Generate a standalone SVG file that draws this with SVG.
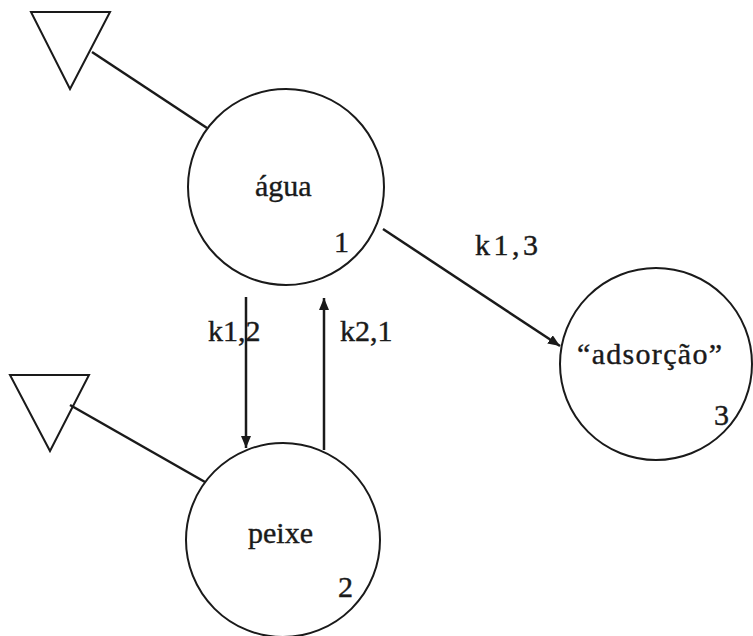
<svg xmlns="http://www.w3.org/2000/svg" width="753" height="636" viewBox="0 0 753 636">
<style>
.node{fill:none;stroke:#1a1a1a;stroke-width:2}
.tri{fill:none;stroke:#1a1a1a;stroke-width:2;stroke-linejoin:miter}
.edge{fill:none;stroke:#1a1a1a;stroke-width:2.5}
text{font-family:"Liberation Serif","Times New Roman",serif;font-size:30px;fill:#1a1a1a;stroke:#1a1a1a;stroke-width:0.4}
</style>
<defs>
<marker id="ah" viewBox="0 0 12 10" refX="12" refY="5" markerWidth="12" markerHeight="10" markerUnits="userSpaceOnUse" orient="auto">
<path d="M0,0 L12,5 L0,10 Z" fill="#1a1a1a"/>
</marker>
</defs>
<rect width="753" height="636" fill="#ffffff"/>
<g id="connectors">
<line class="edge" x1="92" y1="52" x2="207" y2="128"/>
<line class="edge" x1="70" y1="405" x2="205" y2="482"/>
<line class="edge" x1="246" y1="297" x2="246" y2="448" marker-end="url(#ah)"/>
<line class="edge" x1="324" y1="450" x2="324" y2="298" marker-end="url(#ah)"/>
<line class="edge" x1="383" y1="229" x2="560" y2="346" marker-end="url(#ah)"/>
<text x="208" y="341">k1,2</text>
<text x="340" y="341">k2,1</text>
<text x="475" y="255" textLength="63" lengthAdjust="spacing">k1,3</text>
</g>
<g id="source1">
<polygon class="tri" points="31,12 110,12 70,89"/>
</g>
<g id="source2">
<polygon class="tri" points="10,375 89,375 50,451"/>
</g>
<g id="agua">
<circle class="node" cx="286" cy="187" r="98"/>
<text x="255" y="196">água</text>
<text x="334" y="252">1</text>
</g>
<g id="peixe">
<circle class="node" cx="283" cy="540" r="97"/>
<text x="248" y="543">peixe</text>
<text x="338" y="597">2</text>
</g>
<g id="adsorcao">
<circle class="node" cx="656" cy="364" r="96"/>
<text x="577" y="364" textLength="145" lengthAdjust="spacing">“adsorção”</text>
<text x="714" y="425">3</text>
</g>
</svg>
